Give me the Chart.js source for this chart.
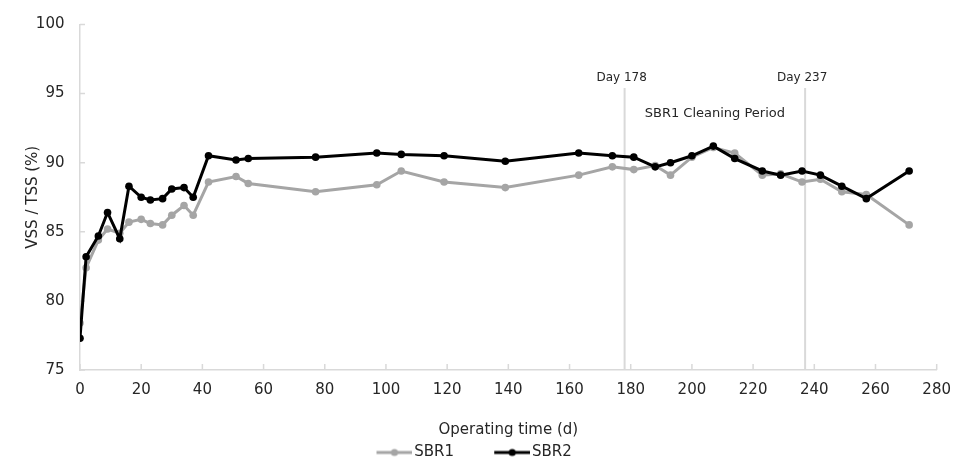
<!DOCTYPE html>
<html>
<head>
<meta charset="utf-8">
<title>VSS / TSS</title>
<script src="https://cdn.jsdelivr.net/npm/chart.js@4.4.0/dist/chart.umd.min.js"></script>
<style>
  html, body { margin: 0; padding: 0; background: #fff; }
  #wrap { width: 962px; height: 465px; }
</style>
</head>
<body>
<div id="wrap"><canvas id="ratioChart"></canvas></div>
<script>
// operating days (shared by both reactors)
const days = [0, 2, 6, 9, 13, 16, 20, 23, 27, 30, 34, 37, 42, 51, 55, 77, 97, 105, 119, 139,
              163, 174, 181, 188, 193, 200, 207, 214, 223, 229, 236, 242, 249, 257, 271];
const sbr1 = [78.4, 82.4, 84.4, 85.2, 84.9, 85.7, 85.9, 85.6, 85.5, 86.2, 86.9, 86.2, 88.6, 89.0, 88.5,
              87.9, 88.4, 89.4, 88.6, 88.2, 89.1, 89.7, 89.5, 89.8, 89.1, 90.4, 91.1, 90.7, 89.1, 89.2,
              88.6, 88.8, 87.9, 87.7, 85.5];
const sbr2 = [77.3, 83.2, 84.7, 86.4, 84.5, 88.3, 87.5, 87.3, 87.4, 88.1, 88.2, 87.5, 90.5, 90.2, 90.3,
              90.4, 90.7, 90.6, 90.5, 90.1, 90.7, 90.5, 90.4, 89.7, 90.0, 90.5, 91.2, 90.3, 89.4, 89.1,
              89.4, 89.1, 88.3, 87.4, 89.4];
const seriesNames = ['SBR1', 'SBR2'];

// cleaning period markers
const markerDays = [178, 237];
const markerLabels = ['Day 178', 'Day 237'];
const markerTop = 95.4;
const periodLabel = 'SBR1 Cleaning Period';

const xTicks = { min: 0, max: 280, step: 20 };
const yTicks = { min: 75, max: 100, step: 5 };

const grey = '#a5a5a5';
const black = '#000000';
const axisColor = '#d9d9d9';
const textColor = '#262626';
const fontFamily = "'DejaVu Sans', 'Liberation Sans', Arial, sans-serif";

Chart.defaults.font.family = fontFamily;
Chart.defaults.color = textColor;

function toPoints(values) {
    return values.map((v, i) => ({ x: days[i], y: v }));
}

function legendIcon(color) {
    const c = document.createElement('canvas');
    c.width = 46; c.height = 10;
    const g = c.getContext('2d');
    g.strokeStyle = color;
    g.lineWidth = 3;
    g.beginPath(); g.moveTo(10, 5); g.lineTo(46, 5); g.stroke();
    g.fillStyle = color;
    g.beginPath(); g.arc(28, 5, 3.6, 0, Math.PI * 2); g.fill();
    return c;
}

const seriesStyle = (color) => ({
    borderColor: color,
    backgroundColor: color,
    borderWidth: 3,
    pointRadius: 3.8,
    pointBorderWidth: 0,
    pointBackgroundColor: color,
    tension: 0,
    fill: false
});

const datasets = [
    Object.assign({ label: seriesNames[0], data: toPoints(sbr1), order: 1 }, seriesStyle(grey)),
    Object.assign({ label: seriesNames[1], data: toPoints(sbr2), order: 0 }, seriesStyle(black))
];
markerDays.forEach(d => {
    datasets.push({
        label: 'marker',
        data: [{ x: d, y: yTicks.min }, { x: d, y: markerTop }],
        borderColor: axisColor,
        borderWidth: 2,
        pointRadius: 0,
        order: 2
    });
});

// small tick marks pointing into the plot
const innerTicks = {
    id: 'innerTicks',
    beforeDatasetsDraw(chart) {
        const { ctx, chartArea, scales: { x, y } } = chart;
        ctx.save();
        ctx.strokeStyle = axisColor;
        ctx.lineWidth = 1.5;
        ctx.beginPath();
        x.ticks.forEach(t => {
            const px = x.getPixelForValue(t.value);
            ctx.moveTo(px, chartArea.bottom);
            ctx.lineTo(px, chartArea.bottom - 6);
        });
        y.ticks.forEach(t => {
            const py = y.getPixelForValue(t.value);
            ctx.moveTo(chartArea.left, py);
            ctx.lineTo(chartArea.left + 5, py);
        });
        ctx.stroke();
        ctx.restore();
    }
};

// text labels for the cleaning period
const periodText = {
    id: 'periodText',
    afterDatasetsDraw(chart) {
        const { ctx, scales: { x, y } } = chart;
        ctx.save();
        ctx.fillStyle = textColor;
        ctx.textAlign = 'center';
        ctx.textBaseline = 'middle';
        ctx.font = '12px ' + fontFamily;
        markerDays.forEach((d, i) => {
            ctx.fillText(markerLabels[i], x.getPixelForValue(d) - 3, y.getPixelForValue(96.15));
        });
        ctx.font = '13px ' + fontFamily;
        const mid = (markerDays[0] + markerDays[1]) / 2;
        ctx.fillText(periodLabel, x.getPixelForValue(mid), y.getPixelForValue(93.53));
        ctx.restore();
    }
};

const ctx = document.getElementById('ratioChart').getContext('2d');
const chart = new Chart(ctx, {
    type: 'line',
    data: { datasets },
    options: {
        responsive: true,
        maintainAspectRatio: false,
        animation: false,
        layout: { padding: { top: 23, right: 18, bottom: -5, left: 0 } },
        plugins: {
            tooltip: { enabled: false },
            legend: {
                position: 'bottom',
                labels: {
                    usePointStyle: true,
                    pointStyleWidth: 34.5,
                    padding: 36,
                    color: textColor,
                    font: { size: 15 },
                    generateLabels: () => [grey, black].map((c, i) => ({
                        text: seriesNames[i],
                        pointStyle: legendIcon(c),
                        fillStyle: c,
                        strokeStyle: c,
                        lineWidth: 0,
                        fontColor: textColor,
                        hidden: false,
                        datasetIndex: i
                    }))
                }
            }
        },
        scales: {
            x: {
                type: 'linear',
                min: xTicks.min,
                max: xTicks.max,
                grid: { display: false, drawTicks: false },
                border: { display: true, color: axisColor, width: 1.5 },
                ticks: {
                    stepSize: xTicks.step,
                    autoSkip: false,
                    maxRotation: 0,
                    padding: 11,
                    color: textColor,
                    font: { size: 15 }
                },
                title: {
                    display: true,
                    text: 'Operating time (d)',
                    color: textColor,
                    font: { size: 15 },
                    padding: { top: 0, bottom: -30 }
                },
                afterFit: (scale) => { scale.height = 39; }
            },
            y: {
                min: yTicks.min,
                max: yTicks.max,
                grid: { display: false, drawTicks: false },
                border: { display: true, color: axisColor, width: 1.5 },
                ticks: {
                    stepSize: yTicks.step,
                    padding: 15.5,
                    color: textColor,
                    font: { size: 15 }
                },
                title: {
                    display: true,
                    text: 'VSS / TSS (%)',
                    color: textColor,
                    font: { size: 15 },
                    padding: { top: 24, bottom: 0 }
                },
                afterFit: (scale) => { scale.width = 80; }
            }
        }
    },
    plugins: [innerTicks, periodText]
});
</script>
</body>
</html>
